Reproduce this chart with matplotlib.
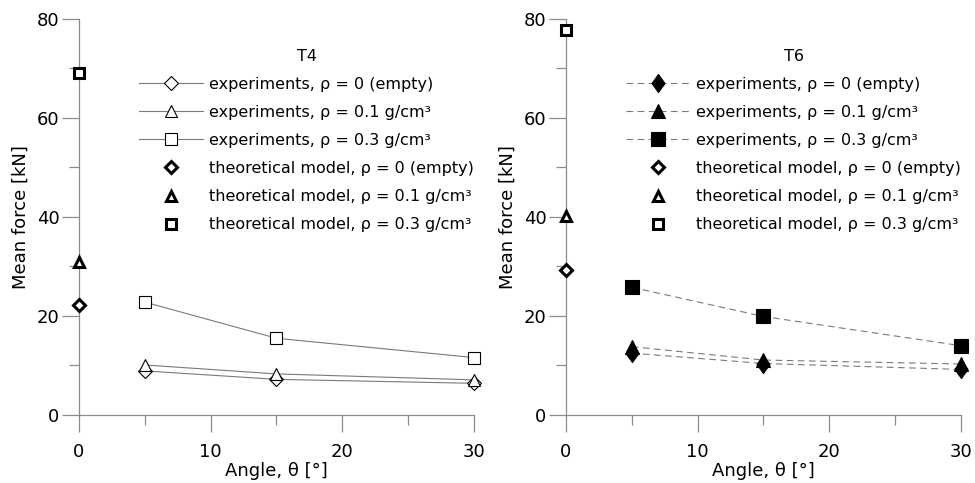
import matplotlib.pyplot as plt
from matplotlib.path import Path

angles = [5, 15, 30]

# T4: experiments (open markers, solid lines) and model at 0 deg
t4_exp_empty = [8.9, 7.2, 6.4]
t4_exp_01 = [10.1, 8.3, 7.1]
t4_exp_03 = [22.8, 15.5, 11.6]
t4_model = [22.3, 31.0, 69.1]

# T6: experiments (filled markers, dashed lines) and model at 0 deg
t6_exp_empty = [12.5, 10.4, 9.2]
t6_exp_01 = [13.8, 11.1, 10.3]
t6_exp_03 = [25.8, 19.9, 14.0]
t6_model = [29.2, 40.2, 77.8]

labels = ["experiments, ρ = 0 (empty)",
          "experiments, ρ = 0.1 g/cm³",
          "experiments, ρ = 0.3 g/cm³",
          "theoretical model, ρ = 0 (empty)",
          "theoretical model, ρ = 0.1 g/cm³",
          "theoretical model, ρ = 0.3 g/cm³"]

# slightly tall diamond for the filled series
tall_diamond = Path([(0, 1), (0.72, 0), (0, -1), (-0.72, 0), (0, 1)],
                    [Path.MOVETO, Path.LINETO, Path.LINETO, Path.LINETO,
                     Path.CLOSEPOLY])

plt.rcParams["font.family"] = "DejaVu Sans"
grey = "#8c8c8c"

fig = plt.figure(figsize=(9.75, 4.83), dpi=100)
ax1 = fig.add_axes([0.081, 0.1408, 0.405, 0.82])
ax2 = fig.add_axes([0.5805, 0.1408, 0.405, 0.82])


def panel(ax, title, exp_series, model, ls, filled):
    if filled:
        exp_markers = [tall_diamond, "^", "s"]
        exp_ms = [13, 9.5, 10]
    else:
        exp_markers = ["D", "^", "s"]
        exp_ms = [7, 8, 9]
    handles = []
    for y, m, ms in zip(exp_series, exp_markers, exp_ms):
        h, = ax.plot(angles, y, color="#7a7a7a", lw=0.8, ls=ls,
                     dashes=(6, 4) if ls == "--" else (None, None),
                     marker=m, ms=ms,
                     mfc="black" if filled else "white", mec="black",
                     mew=0.8, clip_on=False, zorder=3)
        handles.append(h)
    for y, m, ms in zip(model, ["D", "^", "s"], [6.5, 7, 7.5]):
        h, = ax.plot([0], [y], ls="none", marker=m, ms=ms, mfc="white",
                     mec="black", mew=2.2, clip_on=False, zorder=4)
        handles.append(h)

    ax.set_xlim(0, 30)
    ax.set_ylim(0, 80)
    ax.set_xticks([0, 10, 20, 30])
    ax.set_xticks([5, 15, 25], minor=True)
    ax.set_yticks([0, 20, 40, 60, 80])
    ax.set_yticks([10, 30, 50, 70], minor=True)
    for s in ["top", "right"]:
        ax.spines[s].set_visible(False)
    for s in ["left", "bottom"]:
        ax.spines[s].set_color(grey)
        ax.spines[s].set_linewidth(0.9)
    ax.tick_params(which="major", length=12, width=0.9, color=grey,
                   labelsize=13)
    ax.tick_params(which="minor", length=7, width=0.9, color=grey)
    ax.tick_params(axis="x", which="major", pad=8)
    ax.tick_params(axis="y", which="major", pad=2)
    ax.set_xlabel("Angle, θ [°]", fontsize=13, labelpad=1)
    ax.set_ylabel("Mean force [kN]", fontsize=13, labelpad=5)

    leg = ax.legend(handles, labels, title=title, loc="upper left",
                    bbox_to_anchor=(0.152, 0.925), frameon=False,
                    fontsize=11.5, title_fontsize=11.5, handlelength=4.0,
                    handletextpad=0.4, labelspacing=0.82, numpoints=1,
                    borderpad=0, borderaxespad=0)
    leg._legend_box.align = "center"


panel(ax1, "T4", [t4_exp_empty, t4_exp_01, t4_exp_03], t4_model, "-", False)
panel(ax2, "T6", [t6_exp_empty, t6_exp_01, t6_exp_03], t6_model, "--", True)

fig.savefig("out.png", dpi=100)
